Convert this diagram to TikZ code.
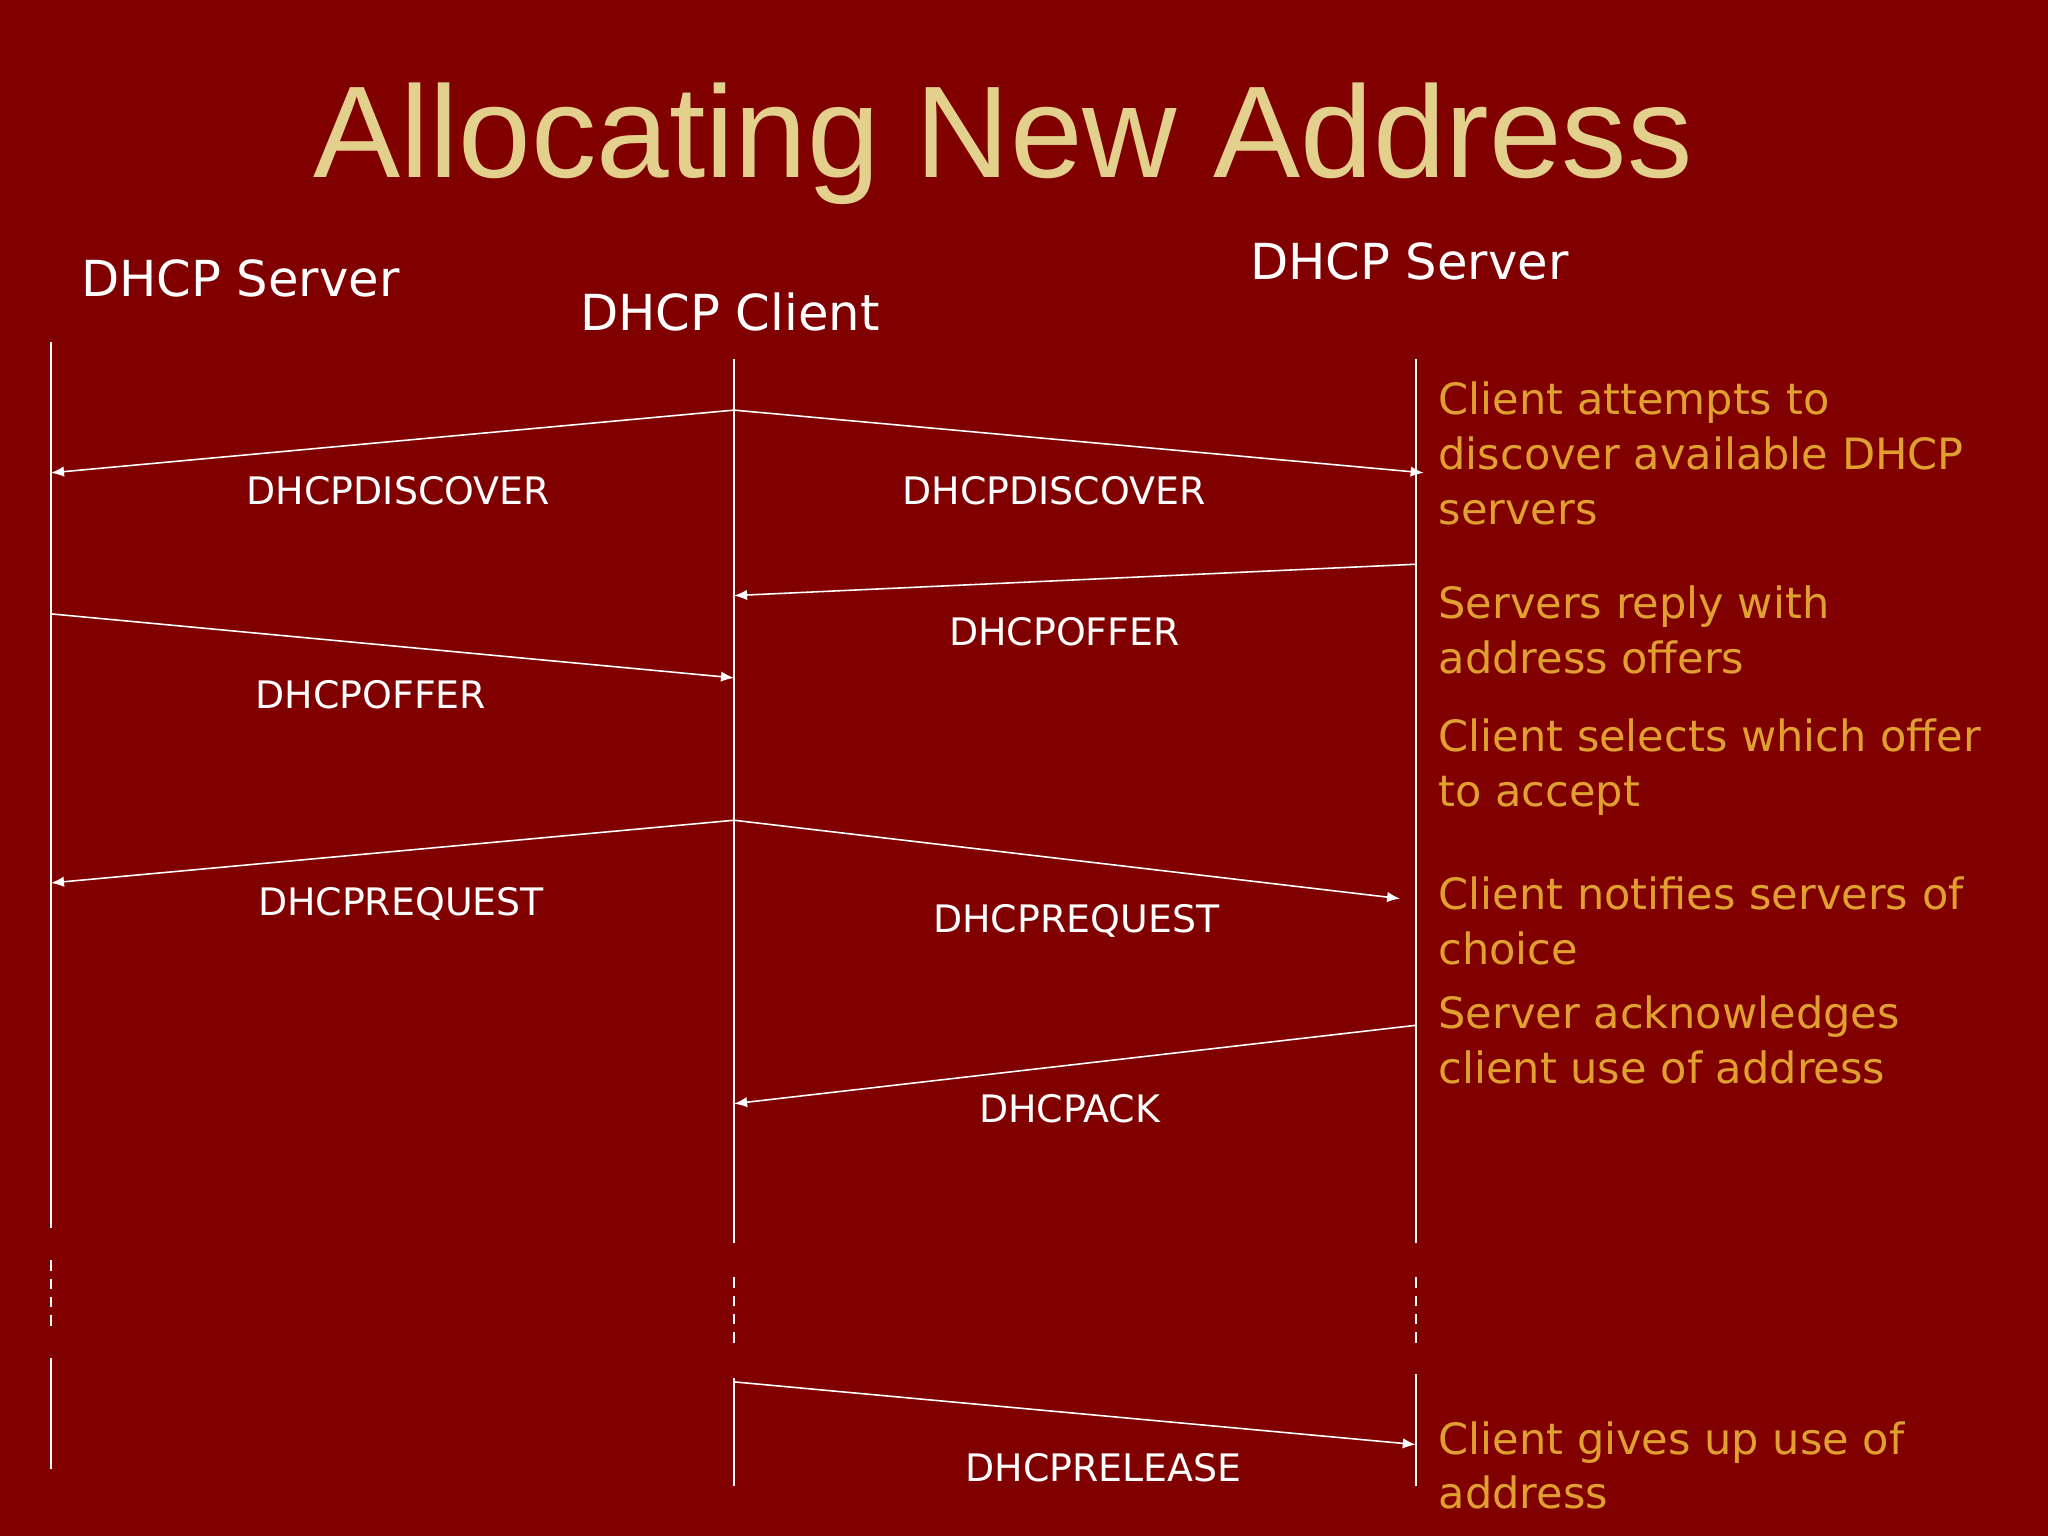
\documentclass[tikz,border=0pt]{standalone}
\usepackage{fontspec}
\setmainfont{DejaVu Sans}
\newfontfamily\titlefont{Liberation Sans}
\usetikzlibrary{arrows.meta}
\definecolor{bg}{HTML}{800000}
\definecolor{titlec}{HTML}{E2D08C}
\definecolor{orng}{HTML}{E0A030}
\tikzset{
  life/.style={draw=white,line width=0.7pt},
  lifedash/.style={draw=white,line width=0.7pt,dash pattern=on 4pt off 3pt},
  msg/.style={draw=white,line width=0.6pt,-{Latex[length=5pt,width=4pt]}},
  msglabel/.style={text=white,font=\fontsize{14.5}{17}\selectfont},
  head/.style={text=white,font=\fontsize{19}{22}\selectfont,anchor=west},
  note/.style={text=orng,font=\fontsize{16.5}{21}\selectfont,anchor=west,align=left,inner sep=0pt}
}
\begin{document}
\begin{tikzpicture}[x=0.5pt,y=-0.5pt]
\fill[bg] (0,0) rectangle (1568,1176);
\useasboundingbox (0,0) rectangle (1568,1176);
\node[text=titlec,font=\titlefont\fontsize{50}{56}\selectfont] (title) at (768,110) {Allocating New Address};
\node[head] (hs1) at (55,213) {DHCP Server};
\node[head] (hc) at (437,239) {DHCP Client};
\node[head] (hs2) at (950,200) {DHCP Server};
% lifelines
\coordinate (L1) at (39,262); \coordinate (L2) at (39,940);
\coordinate (L3) at (39,965); \coordinate (L4) at (39,1015);
\coordinate (L5) at (39,1040); \coordinate (L6) at (39,1125);
\coordinate (M1) at (562,275); \coordinate (M2) at (562,952);
\coordinate (M3) at (562,978); \coordinate (M4) at (562,1028);
\coordinate (M5) at (562,1055); \coordinate (M6) at (562,1138);
\coordinate (R1) at (1084,275); \coordinate (R2) at (1084,952);
\coordinate (R3) at (1084,978); \coordinate (R4) at (1084,1028);
\coordinate (R5) at (1084,1052); \coordinate (R6) at (1084,1138);
\draw[life] (L1) -- (L2); \draw[lifedash] (L3) -- (L4); \draw[life] (L5) -- (L6);
\draw[life] (M1) -- (M2); \draw[lifedash] (M3) -- (M4); \draw[life] (M5) -- (M6);
\draw[life] (R1) -- (R2); \draw[lifedash] (R3) -- (R4); \draw[life] (R5) -- (R6);
% messages
\coordinate (a0) at (562,314); \coordinate (a1) at (39,362); \coordinate (a2) at (1090,362);
\draw[msg] (a0) -- (a1); \draw[msg] (a0) -- (a2);
\node[msglabel] (l1) at (305,376) {DHCPDISCOVER};
\node[msglabel] (l2) at (807,376) {DHCPDISCOVER};
\coordinate (b0) at (1084,432); \coordinate (b1) at (562,456);
\draw[msg] (b0) -- (b1);
\node[msglabel] (l3) at (815,484) {DHCPOFFER};
\coordinate (c0) at (39,470); \coordinate (c1) at (562,519);
\draw[msg] (c0) -- (c1);
\node[msglabel] (l4) at (284,532) {DHCPOFFER};
\coordinate (d0) at (562,628); \coordinate (d1) at (39,676); \coordinate (d2) at (1072,688);
\draw[msg] (d0) -- (d1); \draw[msg] (d0) -- (d2);
\node[msglabel] (l5) at (307,692) {DHCPREQUEST};
\node[msglabel] (l6) at (824,705) {DHCPREQUEST};
\coordinate (e0) at (1084,785); \coordinate (e1) at (562,845);
\draw[msg] (e0) -- (e1);
\node[msglabel] (l7) at (819,849) {DHCPACK};
\coordinate (f0) at (562,1058); \coordinate (f1) at (1084,1106);
\draw[msg] (f0) -- (f1);
\node[msglabel] (l8) at (845,1124) {DHCPRELEASE};
% notes
\node[note] (n1) at (1101,347) {Client attempts to\\discover available DHCP\\servers};
\node[note] (n2) at (1101,482) {Servers reply with\\address offers};
\node[note] (n3) at (1101,587) {Client selects which offer\\to accept};
\node[note] (n4) at (1101,705) {Client notifies servers of\\choice};
\node[note] (n5) at (1101,796) {Server acknowledges\\client use of address};
\node[note] (n6) at (1101,1122) {Client gives up use of\\address};
\end{tikzpicture}
\end{document}
